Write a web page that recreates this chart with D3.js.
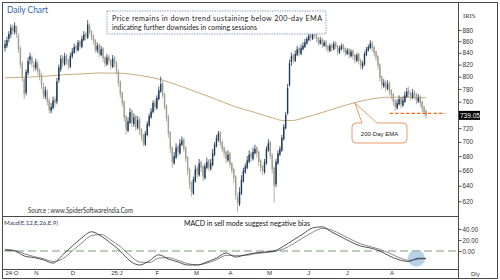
<!DOCTYPE html>
<html><head><meta charset="utf-8">
<script src="https://cdn.jsdelivr.net/npm/d3@7"></script>
<style>body{margin:0;background:#fff}svg{display:block}</style>
</head><body>
<svg id="c" width="500" height="280"></svg>
<script>
// ---------- data ----------
const open=[848,852,864,872,886,876,886,870,848,822,796,774,806,828,832,
820,814,822,810,802,784,768,776,762,746,750,764,760,794,812,832,820,836,828,
816,834,840,852,844,860,850,862,874,866,888,878,870,862,844,854,836,848,832,820,834,
828,816,832,824,808,792,774,760,738,716,728,746,726,738,720,734,718,710,696,710,724,736,744,
760,750,764,776,790,772,754,737,714,692,670,678,694,684,696,704,692,678,662,644,
630,646,664,654,672,666,650,664,674,662,668,682,694,703,714,700,692,686,
674,684,670,662,652,626,616,630,646,658,664,672,684,676,684,692,686,674,666,658,
670,688,700,682,664,642,670,682,688,704,720,742,786,824,836,826,836,848,838,846,850,
856,862,872,864,880,874,866,856,864,852,860,852,843,854,846,858,852,840,846,854,
848,838,846,834,844,836,826,838,828,816,820,836,844,848,858,850,842,834,820,800,784,792,780,
790,778,772,762,750,756,766,754,760,768,778,774,766,776,772,760,768,760,752,746];
const high=[862,868,878,890,890,894,888,874,852,826,800,812,832,840,836,
826,830,826,814,806,790,784,780,766,758,768,768,798,820,836,836,840,838,830,
840,848,856,854,862,862,870,878,876,898,892,880,872,864,858,856,852,850,834,838,836,
830,836,834,826,812,794,776,762,740,736,750,748,742,740,738,736,720,712,716,730,742,750,762,
764,770,784,800,792,774,756,740,716,694,686,698,696,704,708,706,694,680,664,646,
652,668,666,676,674,668,670,678,676,676,690,700,710,716,716,702,694,688,
688,686,672,664,654,630,638,654,664,670,680,688,686,692,696,694,688,676,668,676,
694,704,702,684,666,676,688,694,710,726,744,788,828,840,838,844,852,850,854,858,864,
868,876,874,882,888,876,868,868,866,862,862,854,856,856,860,860,854,852,856,856,
850,848,848,846,846,838,840,840,830,826,842,850,854,862,860,852,844,836,822,802,796,794,794,
792,780,774,764,764,770,768,768,776,782,784,776,780,778,774,772,770,762,754,748];
const low=[842,848,858,866,872,872,866,840,814,792,764,770,802,820,816,
808,810,802,794,780,764,764,754,742,742,748,752,756,790,808,816,818,820,812,
814,830,838,840,842,846,848,860,862,864,872,862,854,840,840,832,834,824,816,818,820,
812,814,816,804,784,766,752,730,710,714,726,722,722,716,718,710,702,694,694,708,722,734,742,
746,748,762,774,766,748,730,706,684,664,668,676,680,682,694,686,672,654,636,626,
628,644,650,652,658,646,648,662,660,660,666,680,692,700,694,686,678,670,
672,664,656,644,622,606,614,628,644,656,662,670,672,674,682,678,666,658,654,656,
668,686,676,656,618,638,668,680,686,702,718,740,784,818,822,824,834,834,836,844,848,
854,860,860,862,866,858,852,854,848,850,844,840,841,842,844,846,836,838,844,840,
834,836,830,832,828,822,824,820,812,812,818,834,842,846,842,834,826,812,792,780,782,776,778,
770,764,754,746,748,754,750,752,758,766,766,762,764,764,756,758,752,744,738,734];
const close=[855,862,873,884,878,888,872,846,820,798,772,808,826,834,822,
815,824,808,800,786,770,778,760,748,752,762,758,792,815,830,822,834,826,818,
835,842,850,846,858,852,864,872,868,890,876,868,860,845,852,838,846,830,822,832,826,
818,830,822,810,790,772,758,736,718,730,744,728,736,722,732,716,708,698,712,726,738,745,758,
752,766,778,788,770,752,735,712,690,672,680,692,686,698,702,690,676,660,642,632,
648,662,656,670,664,652,666,672,664,670,684,696,705,712,698,690,684,676,
682,668,660,650,628,618,632,648,660,666,674,682,678,686,690,684,672,664,660,672,
690,698,680,662,640,672,684,690,706,722,740,782,822,834,828,838,846,840,848,852,858,
864,870,866,878,872,864,858,862,854,858,850,845,852,848,856,850,842,848,852,846,
840,844,836,842,834,828,836,826,818,822,838,846,850,856,848,840,832,818,798,786,790,782,788,
776,770,760,752,758,764,756,762,770,776,772,768,774,770,762,766,758,750,744,739.05];

const emaDay=[0,10,20,30,40,50,60,70,80,90,100,110,120,130,140,145,150,155,160,170,180,190,200,210,219];
const ema=[798,799,800.5,803,804.5,806,805.5,802,796,786,775,763.5,752,743.5,734.5,731,731.5,735,739,748,757,764,767,767,766];

const macdDay=[0,5,10,15,20,25,30,35,40,45,50,55,60,65,70,75,80,85,90,95,100,105,110,115,120,125,130,135,140,145,150,155,160,165,170,175,180,185,190,195,200,205,210,215,219];
const macd=[1.8,0,-9,-12,-16,-22,-7,9,24,35,27,14.5,0,-18,-25.5,-18,-7,-14.5,-20,-25.5,-25.5,-20,-13,-3.6,-11,-7,-3.6,-1.8,0,9,20,31,42,44,34.5,25.5,16.4,9,5.5,0,-9,-16,-19,-13,-13.6];
const signal=[3,1,-5,-10,-14,-19,-14,0,15,28,30,20,8,-8,-20,-21,-13,-12,-17,-23,-25,-22,-16,-8,-8,-8,-5,-3,-1,4,13,24,34,41,38,30,21,13,8,3,-4,-12,-17,-15,-14];

const monthStart=[0,15,34,55,78,98,116,136,157,177,200];
const monthLabels=["24:O","N","D","25:J","F","M","A","M","J","J","A"];
const priceTicks=[620,640,660,680,700,720,760,780,800,820,840,860,880];
const macdTicks=[0,20,40];
const lastClose=739.05;
const supportLevel=742;
const supportFrom=200, supportTo=229;
const emaNoteDay=182, emaNoteValue=758;
const macdHighlightDay=214, macdHighlightValue=-13;

// ---------- layout ----------
const svg=d3.select("#c");
const FL=2,FR=497,FT=2,FB=278,AX=458,PB=216,MB=269;
const x=d3.scaleLinear().domain([0,219]).range([5,426]);
const y=d3.scaleLog().domain([620,880]).range([201.3,30]);
const ym=d3.scaleLinear().domain([0,40]).range([251,229]);
const FONT="'Liberation Sans',Arial,sans-serif";
const LFONT="Lato,'Open Sans',sans-serif";

svg.append("rect").attr("width",500).attr("height",280).attr("fill","#fff");

svg.append("clipPath").attr("id","pc").append("rect").attr("x",FL).attr("y",FT).attr("width",AX-FL).attr("height",PB-FT);
svg.append("clipPath").attr("id","mc").append("rect").attr("x",FL).attr("y",PB).attr("width",AX-FL).attr("height",MB-PB);

// EMA
const gP=svg.append("g").attr("clip-path","url(#pc)");
gP.append("path").datum(emaDay.map((d,i)=>[d,ema[i]]))
  .attr("d",d3.line().x(d=>x(d[0])).y(d=>y(d[1])).curve(d3.curveMonotoneX))
  .attr("fill","none").attr("stroke","#c9ab7c").attr("stroke-width",1);

// candles
const idx=d3.range(close.length);
const up="#1f3a5a", dn="#a19e8e";
gP.selectAll("line.w").data(idx).join("line").attr("class","w")
  .attr("x1",i=>x(i)).attr("x2",i=>x(i)).attr("y1",i=>y(high[i])).attr("y2",i=>y(low[i]))
  .attr("stroke",i=>close[i]>=open[i]?up:dn).attr("stroke-width",0.8);
gP.selectAll("rect.b").data(idx).join("rect").attr("class","b")
  .attr("x",i=>x(i)-0.7).attr("width",1.4)
  .attr("y",i=>y(Math.max(open[i],close[i])))
  .attr("height",i=>Math.max(0.8,Math.abs(y(open[i])-y(close[i]))))
  .attr("fill",i=>close[i]>=open[i]?up:dn);

// support dashed line
svg.append("line").attr("x1",x(supportFrom)).attr("x2",x(supportTo))
  .attr("y1",y(supportLevel)).attr("y2",y(supportLevel))
  .attr("stroke","#f26c1c").attr("stroke-width",1.3).attr("stroke-dasharray","3.5,2");

// EMA callout
{
  const ax=x(emaNoteDay), ay=y(emaNoteValue);
  const x0=352,y0=123,x1=407,y1=143,r=4,b1=362,b2=377;
  const p=`M${x0+r},${y0} L${b1},${y0} L${ax},${ay} L${b2},${y0} L${x1-r},${y0} Q${x1},${y0} ${x1},${y0+r} L${x1},${y1-r} Q${x1},${y1} ${x1-r},${y1} L${x0+r},${y1} Q${x0},${y1} ${x0},${y1-r} L${x0},${y0+r} Q${x0},${y0} ${x0+r},${y0} Z`;
  svg.append("path").attr("d",p).attr("fill","#fff").attr("stroke","#e8905a").attr("stroke-width",0.9);
  svg.append("text").attr("x",(x0+x1)/2).attr("y",135.5).attr("text-anchor","middle")
    .attr("font-family",FONT).attr("font-size",6).attr("fill","#222").text("200-Day EMA");
}

// title
svg.append("text").attr("x",7).attr("y",13).attr("font-family",LFONT).attr("font-size",10)
  .attr("fill","#2f64a0").attr("textLength",41).attr("lengthAdjust","spacingAndGlyphs").text("Daily Chart");

// annotation box
svg.append("rect").attr("x",107).attr("y",11).attr("width",219).attr("height",23)
  .attr("fill","#fff").attr("stroke","#6f8db2").attr("stroke-width",0.8).attr("stroke-dasharray","1.5,1");
svg.append("text").attr("x",112).attr("y",21.3).attr("font-family",LFONT).attr("font-size",7.2).attr("fill","#1a1a1a")
  .attr("textLength",210).attr("lengthAdjust","spacing").text("Price remains in down trend sustaining below 200-day EMA");
svg.append("text").attr("x",112).attr("y",29.8).attr("font-family",LFONT).attr("font-size",7.2).attr("fill","#1a1a1a")
  .attr("textLength",145).attr("lengthAdjust","spacingAndGlyphs").text("indicating further downsides in coming sessions");

// source
svg.append("text").attr("x",28).attr("y",213).attr("font-family",LFONT).attr("font-size",7).attr("fill","#333")
  .attr("textLength",105).attr("lengthAdjust","spacingAndGlyphs").text("Source : www.SpiderSoftwareIndia.Com");

// MACD panel
const gM=svg.append("g").attr("clip-path","url(#mc)");
gM.append("circle").attr("cx",x(macdHighlightDay)).attr("cy",ym(macdHighlightValue)).attr("r",8.5)
  .attr("fill","#9fc3e6").attr("opacity",0.75);
gM.append("line").attr("x1",4).attr("x2",AX).attr("y1",ym(0)).attr("y2",ym(0))
  .attr("stroke","#a6bea4").attr("stroke-width",1.6).attr("stroke-dasharray","8,4");
const ml=d3.line().x(d=>x(d[0])).y(d=>ym(d[1])).curve(d3.curveMonotoneX);
gM.append("path").datum(macdDay.map((d,i)=>[d,signal[i]])).attr("d",ml)
  .attr("fill","none").attr("stroke","#6a6a6a").attr("stroke-width",0.8);
gM.append("path").datum(macdDay.map((d,i)=>[d,macd[i]])).attr("d",ml)
  .attr("fill","none").attr("stroke","#262626").attr("stroke-width",0.8);

svg.append("text").attr("x",4).attr("y",225).attr("font-family",LFONT).attr("font-size",6.5).attr("fill","#2a3a5c")
  .attr("textLength",54).attr("lengthAdjust","spacingAndGlyphs").text("Macd(E,12,E,26,E,9)");
svg.append("text").attr("x",184).attr("y",226).attr("font-family",LFONT).attr("font-size",8).attr("fill","#111")
  .attr("textLength",126).attr("lengthAdjust","spacingAndGlyphs").text("MACD in sell mode suggest negative bias");

// frame
const fr=svg.append("g").attr("stroke","#4a4a4a").attr("stroke-width",1).attr("fill","none");
fr.append("rect").attr("x",FL+0.5).attr("y",FT+0.5).attr("width",FR-FL).attr("height",FB-FT);
fr.append("line").attr("x1",AX+0.5).attr("x2",AX+0.5).attr("y1",FT).attr("y2",FB);
fr.append("line").attr("x1",FL).attr("x2",AX).attr("y1",PB+0.5).attr("y2",PB+0.5);
fr.append("line").attr("x1",FL).attr("x2",AX).attr("y1",MB+0.5).attr("y2",MB+0.5);

// price axis
const pa=svg.append("g").attr("transform",`translate(${AX+0.5},0)`)
  .call(d3.axisRight(y).tickValues(priceTicks).tickSize(3).tickPadding(1).tickFormat(d3.format("d")));
pa.select(".domain").remove();
pa.selectAll("line").attr("stroke","#555");
pa.selectAll("text").attr("font-family",FONT).attr("font-size",6.3).attr("fill","#333");
svg.append("text").attr("x",463).attr("y",18).attr("font-family","'Liberation Serif',serif").attr("font-size",6.5).attr("fill","#333").text("IRIS");

// last price tag
svg.append("rect").attr("x",AX+1).attr("y",y(lastClose)-4.5).attr("width",21).attr("height",9).attr("fill","#000");
svg.append("text").attr("x",AX+2).attr("y",y(lastClose)+2.3).attr("font-family",FONT).attr("font-size",6.5)
  .attr("fill","#fff").text(d3.format(".2f")(lastClose));

// macd axis
const ma=svg.append("g").attr("transform",`translate(${AX+0.5},0)`)
  .call(d3.axisRight(ym).tickValues(macdTicks).tickSize(3).tickPadding(1).tickFormat(d3.format(".2f")));
ma.select(".domain").remove();
ma.selectAll("line").attr("stroke","#555");
ma.selectAll("text").attr("font-family",FONT).attr("font-size",6.3).attr("fill","#333");

// x axis
const xa=svg.append("g").attr("transform",`translate(0,${MB})`)
  .call(d3.axisBottom(x).tickValues(monthStart).tickSize(0).tickPadding(2).tickFormat((d,i)=>monthLabels[i]));
xa.select(".domain").remove();
xa.selectAll("text").attr("text-anchor","start").attr("font-family",FONT).attr("font-size",6).attr("fill","#333");
svg.append("text").attr("x",471).attr("y",276).attr("font-family",FONT).attr("font-size",6).attr("fill","#333").text("Dly");
</script>
</body></html>
